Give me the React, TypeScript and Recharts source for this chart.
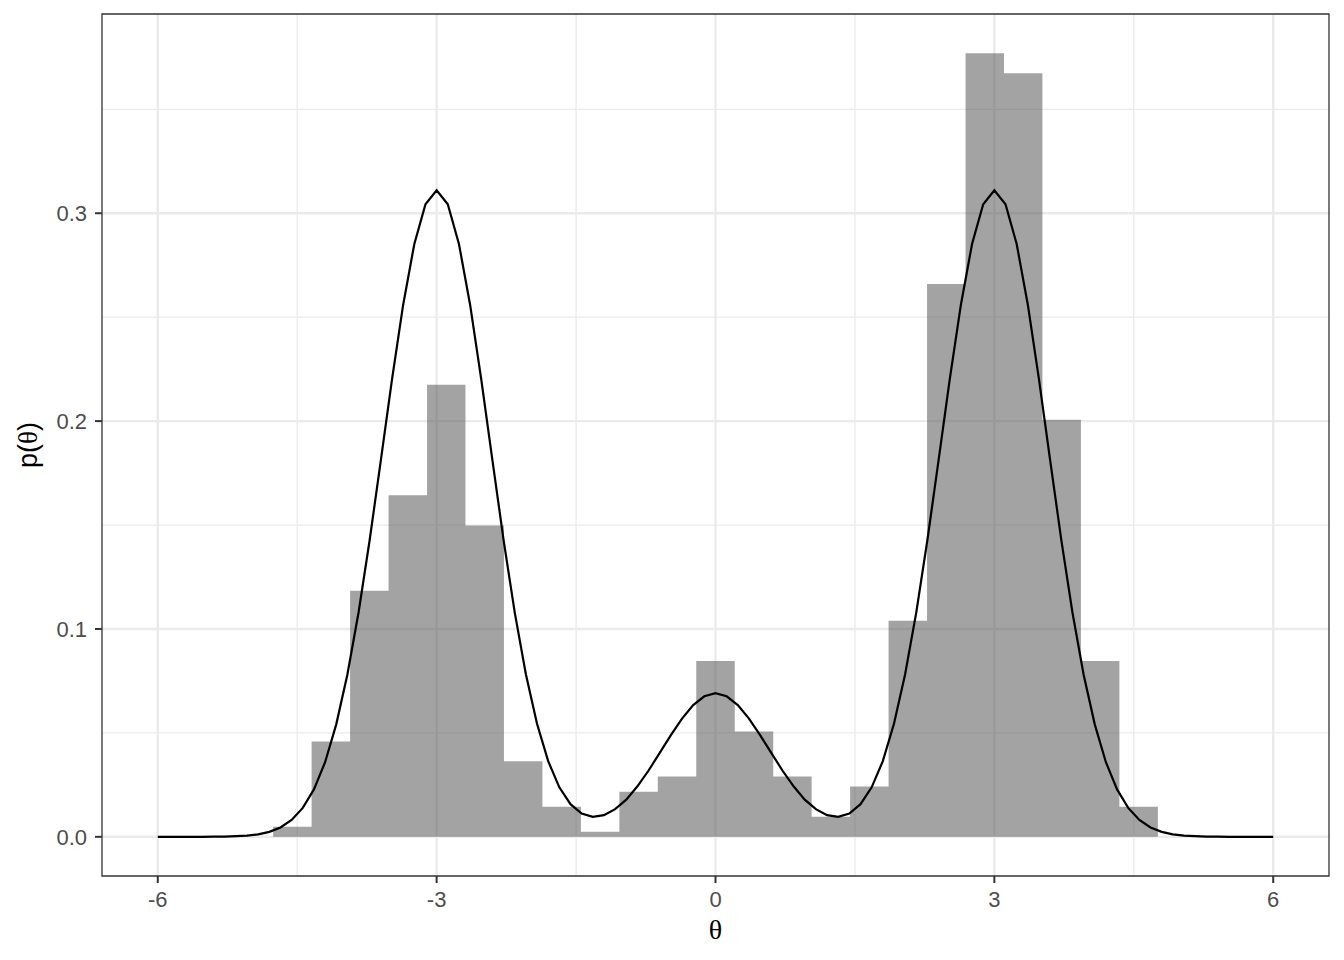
import React from 'react';
import { ComposedChart, Area, Line, XAxis, YAxis, CartesianGrid, ReferenceArea } from 'recharts';

// histogram: bin edges (24) and density of each bin (23)
const binEdges = [
    -4.759, -4.345, -3.931, -3.517, -3.103, -2.69, -2.276, -1.862, -1.448, -1.034, -0.621, -0.207,
    0.207, 0.621, 1.034, 1.448, 1.862, 2.276, 2.69, 3.103, 3.517, 3.931, 4.345, 4.759,
];
const binDensity = [
    0.0048, 0.0459, 0.1184, 0.1643, 0.2175, 0.1498, 0.0363, 0.0145, 0.0024, 0.0217, 0.029, 0.0846,
    0.0507, 0.029, 0.0097, 0.0242, 0.1039, 0.2659, 0.377, 0.3674, 0.2006, 0.0846, 0.0145,
];

// density curve
const theta = [
    -6, -5.88, -5.76, -5.64, -5.52, -5.4, -5.28, -5.16, -5.04, -4.92, -4.8, -4.68, -4.56, -4.44, -4.32,
    -4.2, -4.08, -3.96, -3.84, -3.72, -3.6, -3.48, -3.36, -3.24, -3.12, -3, -2.88, -2.76, -2.64, -2.52,
    -2.4, -2.28, -2.16, -2.04, -1.92, -1.8, -1.68, -1.56, -1.44, -1.32, -1.2, -1.08, -0.96, -0.84, -0.72,
    -0.6, -0.48, -0.36, -0.24, -0.12, 0, 0.12, 0.24, 0.36, 0.48, 0.6, 0.72, 0.84, 0.96, 1.08, 1.2, 1.32,
    1.44, 1.56, 1.68, 1.8, 1.92, 2.04, 2.16, 2.28, 2.4, 2.52, 2.64, 2.76, 2.88, 3, 3.12, 3.24, 3.36, 3.48,
    3.6, 3.72, 3.84, 3.96, 4.08, 4.2, 4.32, 4.44, 4.56, 4.68, 4.8, 4.92, 5.04, 5.16, 5.28, 5.4, 5.52, 5.64,
    5.76, 5.88, 6,
];
const pTheta = [
    0, 0, 0, 0, 0, 0.0001, 0.0001, 0.0003, 0.0006, 0.0012, 0.0024, 0.0045, 0.0081, 0.0139, 0.0228,
    0.0359, 0.0541, 0.0781, 0.1079, 0.1429, 0.1812, 0.2201, 0.256, 0.2852, 0.3043, 0.311, 0.3043, 0.2852,
    0.256, 0.2201, 0.1812, 0.1429, 0.108, 0.0782, 0.0544, 0.0364, 0.0238, 0.0157, 0.0112, 0.0096, 0.0104,
    0.0133, 0.0179, 0.0243, 0.0319, 0.0404, 0.0489, 0.0569, 0.0634, 0.0676, 0.0691, 0.0676, 0.0634, 0.0569,
    0.0489, 0.0404, 0.0319, 0.0243, 0.0179, 0.0133, 0.0104, 0.0096, 0.0112, 0.0157, 0.0238, 0.0364, 0.0544,
    0.0782, 0.108, 0.1429, 0.1812, 0.2201, 0.256, 0.2852, 0.3043, 0.311, 0.3043, 0.2852, 0.256, 0.2201,
    0.1812, 0.1429, 0.1079, 0.0781, 0.0541, 0.0359, 0.0228, 0.0139, 0.0081, 0.0045, 0.0024, 0.0012, 0.0006,
    0.0003, 0.0001, 0.0001, 0, 0, 0, 0, 0,
];

const xTicks = [-6, -3, 0, 3, 6];
const xMinor = [-4.5, -1.5, 1.5, 4.5];
const yTicks = [0, 0.1, 0.2, 0.3];
const yMinor = [0.05, 0.15, 0.25, 0.35];

const X_DOMAIN: [number, number] = [-6.6, 6.6];
const Y_DOMAIN: [number, number] = [-0.01885, 0.39585];

const histData = binEdges.map((x, i) => ({ x, h: i < binDensity.length ? binDensity[i] : 0 }));
const curveData = theta.map((x, i) => ({ x, p: pTheta[i] }));

const SANS = '"Liberation Sans", Arial, Helvetica, sans-serif';
const SERIF = '"Liberation Serif", "Times New Roman", serif';

const XTitle = (props: any) => {
    const vb = props.viewBox || {};
    const cx = vb.x + vb.width / 2;
    return (
        <text x={cx} y={939} textAnchor="middle" fontSize={28} fontFamily={SERIF} fill="#000">
            θ
        </text>
    );
};

const YTitle = (props: any) => {
    const vb = props.viewBox || {};
    const cy = vb.y + vb.height / 2;
    const cx = 28;
    return (
        <text
            x={cx}
            y={cy}
            transform={`rotate(-90 ${cx} ${cy})`}
            textAnchor="middle"
            dominantBaseline="central"
            fontSize={27}
            fontFamily={SANS}
            fill="#000"
        >
            p(<tspan fontFamily={SERIF}>θ</tspan>)
        </text>
    );
};

export default function App() {
    return (
        <div style={{ position: 'absolute', left: 0, top: 0, width: 1344, height: 960, background: '#fff' }}>
            <ComposedChart width={1344} height={960} margin={{ top: 14, right: 15, bottom: 0, left: 0 }}>
                <CartesianGrid stroke="#EBEBEB" strokeWidth={1.3} verticalValues={xMinor} horizontalValues={yMinor} />
                <CartesianGrid stroke="#EBEBEB" strokeWidth={2.4} verticalValues={xTicks} horizontalValues={yTicks} />
                <XAxis
                    dataKey="x"
                    type="number"
                    domain={X_DOMAIN}
                    ticks={xTicks}
                    allowDataOverflow
                    height={84}
                    axisLine={false}
                    tickSize={7}
                    tickMargin={8}
                    tickLine={{ stroke: '#333333', strokeWidth: 2 }}
                    tick={{ fill: '#4D4D4D', fontSize: 22, fontFamily: SANS }}
                    label={<XTitle />}
                />
                <YAxis
                    type="number"
                    domain={Y_DOMAIN}
                    ticks={yTicks}
                    allowDataOverflow
                    width={102}
                    axisLine={false}
                    tickSize={7}
                    tickMargin={8}
                    tickLine={{ stroke: '#333333', strokeWidth: 2 }}
                    tick={{ fill: '#4D4D4D', fontSize: 22, fontFamily: SANS }}
                    tickFormatter={(v: number) => v.toFixed(1)}
                    label={<YTitle />}
                />
                <Area
                    data={histData}
                    dataKey="h"
                    type="stepAfter"
                    baseValue={0}
                    stroke="none"
                    fill="#474747"
                    fillOpacity={0.5}
                    isAnimationActive={false}
                />
                <Line
                    data={curveData}
                    dataKey="p"
                    type="linear"
                    stroke="#000"
                    strokeWidth={2.2}
                    dot={false}
                    activeDot={false}
                    isAnimationActive={false}
                />
                <ReferenceArea
                    x1={X_DOMAIN[0]}
                    x2={X_DOMAIN[1]}
                    y1={Y_DOMAIN[0]}
                    y2={Y_DOMAIN[1]}
                    fill="none"
                    stroke="#333333"
                    strokeWidth={1.3}
                />
            </ComposedChart>
        </div>
    );
}
